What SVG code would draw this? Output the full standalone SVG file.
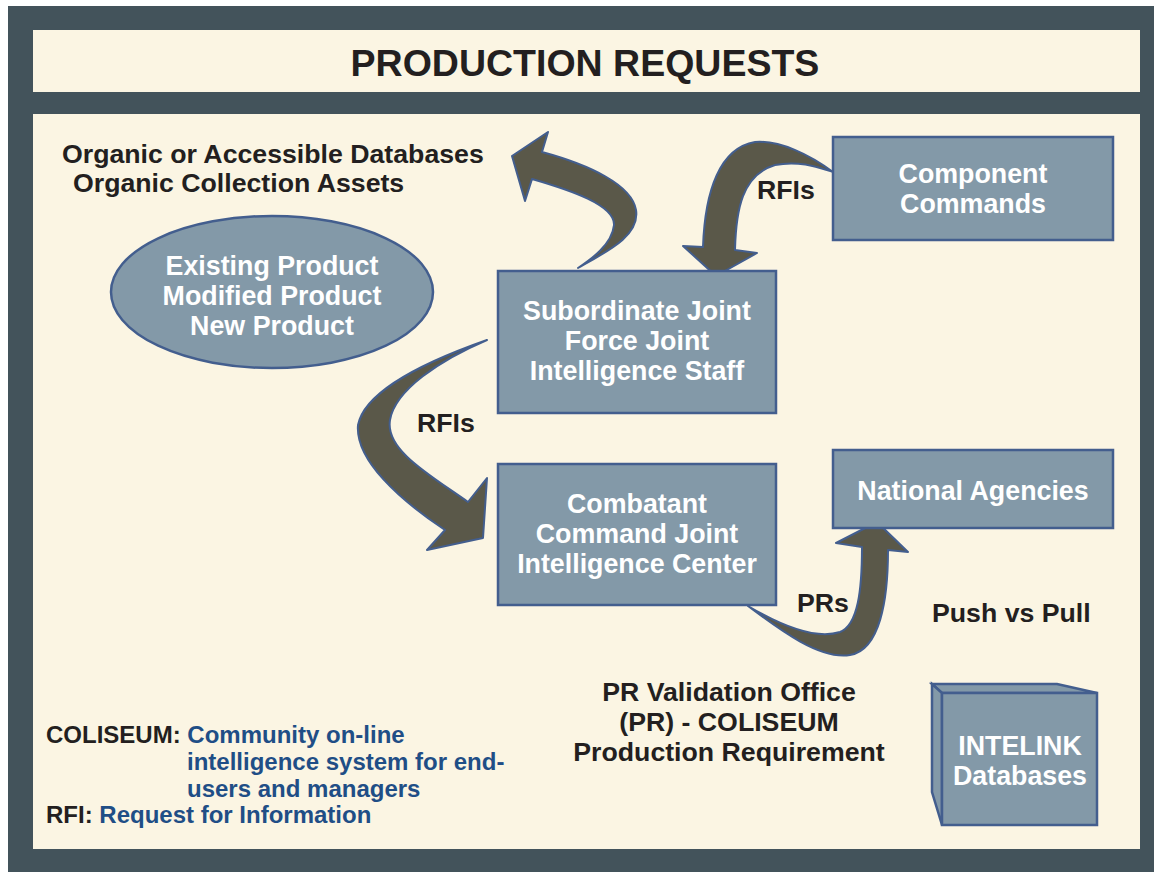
<svg xmlns="http://www.w3.org/2000/svg" width="1154" height="872" viewBox="0 0 1154 872">
<defs>
<style>
.node{fill:#8399A8;stroke:#435E8E;stroke-width:2.5}
.arrow{fill:#5A5849;stroke:#435E8E;stroke-width:2;stroke-linejoin:round}
.nt{font-family:"Liberation Sans",Arial,sans-serif;font-weight:bold;font-size:26.8px;fill:#FFFFFF;text-anchor:middle}
.bt{font-family:"Liberation Sans",Arial,sans-serif;font-weight:bold;font-size:26.7px;fill:#231F20}
.lt{font-family:"Liberation Sans",Arial,sans-serif;font-weight:bold;font-size:24px;fill:#231F20}
.blue{fill:#1F4E86}
</style>
</defs>
<rect x="0" y="0" width="1154" height="872" fill="#FFFFFF"/>
<rect x="8" y="6" width="1146" height="866" fill="#43535B"/>
<rect x="33" y="30" width="1107" height="62" fill="#FBF5E3"/>
<rect x="33" y="114" width="1107" height="735" fill="#FBF5E3"/>
<text x="585" y="76" font-family="'Liberation Sans',Arial,sans-serif" font-weight="bold" font-size="37.5" fill="#231F20" text-anchor="middle">PRODUCTION REQUESTS</text>

<g id="connectors">
<path class="arrow" d="M 578,268 C 610,250 640,235 636,210 C 632,185 590,165 542,152 L 548,132 L 512,156 L 525,201 L 532,179 C 570,190 615,205 614,225 C 612,245 590,260 578,268 Z"/>
<path class="arrow" d="M 833,172 C 810,155 780,140 755,142 C 720,148 705,190 703,247 L 683,246 L 716,276 L 757,253 L 735,250 C 736,210 742,175 775,165 C 800,160 820,168 833,172 Z"/>
<path class="arrow" d="M 487,340 C 430,360 365,390 358,425 C 355,460 400,500 445,530 L 427,550 L 483,538 L 487,478 L 468,502 C 430,475 385,450 390,420 C 395,390 440,360 487,340 Z"/>
<path class="arrow" d="M 748,606 C 780,630 820,660 850,655 C 880,650 888,600 888,550 L 908,552 L 877,522 L 836,543 L 862,547 C 862,590 858,625 840,632 C 815,640 780,625 748,606 Z"/>
<text class="bt" x="757" y="199" font-size="23">RFIs</text>
<text class="bt" x="417" y="432" font-size="23">RFIs</text>
<text class="bt" x="797" y="612" font-size="23">PRs</text>
</g>

<g id="databases">
<text class="bt" x="62" y="163">Organic or Accessible Databases</text>
<text class="bt" x="73" y="192">Organic Collection Assets</text>
</g>

<g id="products">
<ellipse class="node" cx="272" cy="292" rx="161" ry="76"/>
<text class="nt" x="272" y="275">Existing Product</text>
<text class="nt" x="272" y="305">Modified Product</text>
<text class="nt" x="272" y="335">New Product</text>
</g>

<g id="component-commands">
<rect class="node" x="833" y="137" width="280" height="103"/>
<text class="nt" x="973" y="183">Component</text>
<text class="nt" x="973" y="213">Commands</text>
</g>

<g id="subordinate">
<rect class="node" x="498" y="271" width="278" height="142"/>
<text class="nt" x="637" y="320">Subordinate Joint</text>
<text class="nt" x="637" y="350">Force Joint</text>
<text class="nt" x="637" y="380">Intelligence Staff</text>
</g>

<g id="combatant">
<rect class="node" x="498" y="464" width="278" height="141"/>
<text class="nt" x="637" y="513">Combatant</text>
<text class="nt" x="637" y="543">Command Joint</text>
<text class="nt" x="637" y="573">Intelligence Center</text>
</g>

<g id="national-agencies">
<rect class="node" x="833" y="450" width="280" height="78"/>
<text class="nt" x="973" y="500">National Agencies</text>
</g>

<g id="push-pull">
<text class="bt" x="932" y="622">Push vs Pull</text>
</g>

<g id="pr-validation">
<text class="bt" x="729" y="701" text-anchor="middle">PR Validation Office</text>
<text class="bt" x="729" y="731" text-anchor="middle">(PR) - COLISEUM</text>
<text class="bt" x="729" y="761" text-anchor="middle">Production Requirement</text>
</g>

<g id="intelink">
<path class="node" d="M 932,684 L 1057,684 L 1097,693 L 942,693 Z"/>
<path class="node" d="M 932,684 L 942,693 L 942,825 L 932,792 Z"/>
<rect class="node" x="942" y="693" width="155" height="132"/>
<text class="nt" x="1020" y="755">INTELINK</text>
<text class="nt" x="1020" y="785">Databases</text>
</g>

<g id="legend">
<text class="lt" x="46" y="743">COLISEUM: <tspan class="blue">Community on-line</tspan></text>
<text class="lt blue" x="187" y="770">intelligence system for end-</text>
<text class="lt blue" x="187" y="797">users and managers</text>
<text class="lt" x="46" y="823">RFI: <tspan class="blue">Request for Information</tspan></text>
</g>
</svg>
